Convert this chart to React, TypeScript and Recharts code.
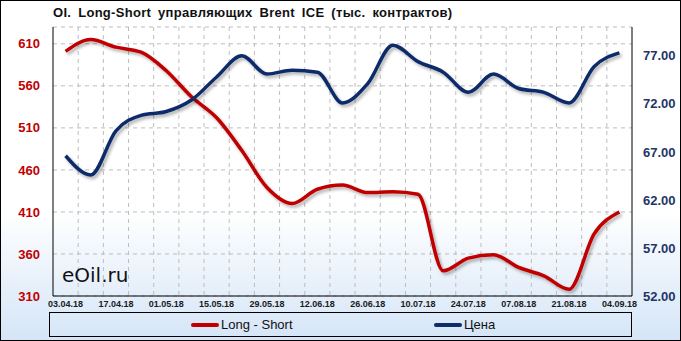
import { LineChart, Line, XAxis, YAxis, CartesianGrid } from 'recharts';

const dates = [
  '03.04.18', '10.04.18', '17.04.18', '24.04.18', '01.05.18', '08.05.18', '15.05.18', '22.05.18',
  '29.05.18', '05.06.18', '12.06.18', '19.06.18', '26.06.18', '03.07.18', '10.07.18', '17.07.18',
  '24.07.18', '31.07.18', '07.08.18', '14.08.18', '21.08.18', '28.08.18', '04.09.18',
];
const longShort = [601, 615, 606, 600, 578, 547, 522, 483, 439, 420, 437, 442, 433, 434, 431, 340, 355, 359, 344, 334, 318, 384, 410];
const price = [66.6, 64.6, 69.2, 70.8, 71.2, 72.4, 74.8, 77.0, 75.1, 75.5, 75.3, 72.1, 74.1, 78.1, 76.4, 75.3, 73.2, 75.1, 73.6, 73.2, 72.1, 75.9, 77.3];

const leftTicks = [310, 360, 410, 460, 510, 560, 610];
const rightTicks = [52, 57, 62, 67, 72, 77];

const RED = '#c00000';
const BLUE = '#0f2c6b';
const FONT = '"Liberation Sans", Arial, sans-serif';

const data = dates.map((d, i) => ({ i, date: d, ls: longShort[i], price: price[i] }));
const xTicks = dates.map((_, i) => i).filter((i) => i % 2 === 0);
const xDomain = [-0.5, dates.length - 0.5];
// gridlines sit between the weekly points
const gridX = dates.slice(1).map((_, i) => i + 0.5);

export default function App() {
  return (
    <div style={{
      position: 'absolute', left: 0, top: 0, width: 681, height: 341, boxSizing: 'border-box',
      border: '1px solid #000', fontFamily: FONT,
      background: 'linear-gradient(to bottom, #ffffff 0%, #ffffff 62%, #d5e5f7 100%)',
    }}>
      <div style={{ position: 'absolute', left: 0, top: 0 }}>
        <LineChart width={681} height={341} data={data} margin={{ top: 26, right: 0, bottom: 26, left: 0 }}>
          <defs>
            <filter id="shadow" x="-5%" y="-5%" width="110%" height="120%">
              <feDropShadow dx="2" dy="2.5" stdDeviation="1.4" floodColor="#000" floodOpacity="0.3" />
            </filter>
          </defs>
          <CartesianGrid
            yAxisId="left"
            stroke="#bdbdbd"
            strokeDasharray="4 4"
            verticalCoordinatesGenerator={({ offset }: any) =>
              gridX.map((v) => offset.left + ((v - xDomain[0]) / (xDomain[1] - xDomain[0])) * offset.width)
            }
          />
          <XAxis
            dataKey="i"
            type="number"
            domain={xDomain}
            ticks={xTicks}
            tickFormatter={(v) => dates[v]}
            interval={0}
            height={20}
            axisLine={{ stroke: '#000' }}
            tickLine={false}
            tickSize={0}
            tickMargin={5}
            tick={{ fill: '#1a1a1a', fontSize: 9, fontWeight: 700, fontFamily: FONT }}
          />
          <XAxis xAxisId="top" orientation="top" type="number" domain={xDomain} height={0} tick={false} tickLine={false} axisLine={{ stroke: '#000' }} />
          <YAxis
            yAxisId="left"
            domain={[310, 630]}
            ticks={leftTicks}
            width={52}
            axisLine={{ stroke: '#000' }}
            tickLine={false}
            tickSize={0}
            tickMargin={13}
            tick={{ fill: RED, fontSize: 13, fontWeight: 700, fontFamily: FONT }}
          />
          <YAxis
            yAxisId="right"
            orientation="right"
            domain={[52, 80]}
            ticks={rightTicks}
            width={50}
            tickFormatter={(v) => v.toFixed(2)}
            axisLine={{ stroke: '#000' }}
            tickLine={false}
            tickSize={0}
            tickMargin={11}
            tick={{ fill: '#1f3566', fontSize: 13, fontWeight: 700, fontFamily: FONT }}
          />
          <Line yAxisId="left" type="monotone" dataKey="ls" stroke={RED} strokeWidth={3.5} dot={false} isAnimationActive={false} filter="url(#shadow)" />
          <Line yAxisId="right" type="monotone" dataKey="price" stroke={BLUE} strokeWidth={3.5} dot={false} isAnimationActive={false} filter="url(#shadow)" />
        </LineChart>
      </div>

      <div style={{ position: 'absolute', left: 52, top: 4, fontSize: 13, fontWeight: 700, lineHeight: '16px', color: '#111', whiteSpace: 'nowrap', letterSpacing: 0.3, wordSpacing: 3 }}>
        OI. Long-Short управляющих Brent ICE (тыс. контрактов)
      </div>

      <div style={{ position: 'absolute', left: 61, top: 264, fontFamily: '"DejaVu Sans", sans-serif', fontSize: 20, lineHeight: '20px', color: '#111' }}>
        eOil.ru
      </div>

      <div style={{ position: 'absolute', left: 48, top: 311, width: 583, height: 25, boxSizing: 'border-box', border: '1px solid #000' }} />
      <div style={{ position: 'absolute', left: 190, top: 322, width: 28, height: 4, borderRadius: 2, background: RED }} />
      <div style={{ position: 'absolute', left: 220, top: 316, fontSize: 13, lineHeight: '16px', color: '#111' }}>Long - Short</div>
      <div style={{ position: 'absolute', left: 433, top: 322, width: 28, height: 4, borderRadius: 2, background: BLUE }} />
      <div style={{ position: 'absolute', left: 463, top: 316, fontSize: 13, lineHeight: '16px', color: '#111' }}>Цена</div>
    </div>
  );
}
